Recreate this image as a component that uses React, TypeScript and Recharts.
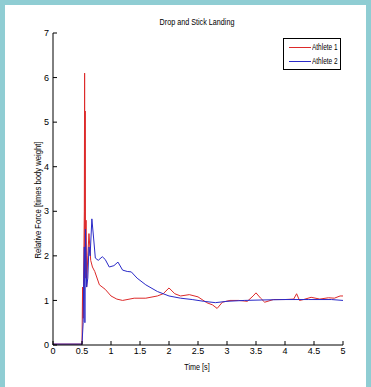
import { LineChart, Line, XAxis, YAxis } from 'recharts'

const xTicks = [0, 0.5, 1, 1.5, 2, 2.5, 3, 3.5, 4, 4.5, 5]
const yTicks = [0, 1, 2, 3, 4, 5, 6, 7]

// Athlete 1 (red)
const time1 = [0, 0.5, 0.51, 0.52, 0.53, 0.54, 0.545, 0.55, 0.555, 0.56, 0.57, 0.58, 0.6, 0.62, 0.65, 0.68, 0.72, 0.8, 0.9, 1.0, 1.1, 1.2, 1.4, 1.6, 1.8, 1.9, 2.0, 2.1, 2.2, 2.35, 2.5, 2.65, 2.75, 2.83, 2.92, 3.05, 3.2, 3.35, 3.45, 3.5, 3.58, 3.65, 3.8, 4.0, 4.15, 4.2, 4.25, 4.32, 4.45, 4.6, 4.75, 4.85, 4.95, 5.0]
const force1 = [0.02, 0.02, 1.3, 0.6, 1.75, 3.0, 6.1, 2.2, 5.25, 1.5, 2.8, 1.3, 2.0, 2.5, 1.9, 1.75, 1.65, 1.35, 1.25, 1.1, 1.03, 1.0, 1.05, 1.05, 1.1, 1.15, 1.28, 1.15, 1.1, 1.13, 1.08, 0.95, 0.9, 0.82, 0.96, 1.0, 1.0, 0.98, 1.1, 1.17, 1.05, 0.96, 1.02, 1.02, 1.03, 1.15, 1.0, 1.02, 1.07, 1.03, 1.06, 1.05, 1.1, 1.1]

// Athlete 2 (blue)
const time2 = [0, 0.5, 0.52, 0.53, 0.54, 0.55, 0.56, 0.57, 0.58, 0.6, 0.62, 0.64, 0.67, 0.7, 0.73, 0.78, 0.85, 0.9, 0.97, 1.05, 1.12, 1.2, 1.28, 1.35, 1.45, 1.6, 1.8, 2.0, 2.2, 2.4, 2.6, 2.8, 3.0, 3.3, 3.6, 4.0, 4.4, 4.8, 5.0]
const force2 = [0.02, 0.02, 0.5, 1.5, 2.2, 0.5, 2.6, 2.0, 1.3, 1.5, 2.2, 2.0, 2.83, 2.4, 1.95, 1.9, 1.98, 1.92, 1.75, 1.78, 1.86, 1.68, 1.65, 1.64, 1.5, 1.35, 1.2, 1.1, 1.05, 1.02, 0.98, 0.95, 0.98, 1.0, 1.01, 1.02, 1.02, 1.02, 1.0]

const series1 = time1.map((t, i) => ({ t, f: force1[i] }))
const series2 = time2.map((t, i) => ({ t, f: force2[i] }))

const FONT = '"Liberation Sans", Arial, sans-serif'
const RED = '#dd2a2a'
const BLUE = '#2a2ac8'

function BottomTick(props: any) {
  const { x, y, payload } = props
  const axisY = y - 3
  return (
    <g>
      <line x1={x} x2={x} y1={axisY} y2={axisY - 4} stroke="#000" />
      <text x={x} y={y} dy="0.71em" textAnchor="middle" fontSize={9} fontFamily={FONT} fill="#000">
        {payload.value}
      </text>
    </g>
  )
}

function TopTick(props: any) {
  const { x, y } = props
  return <line x1={x} x2={x} y1={y} y2={y + 4} stroke="#000" />
}

function LeftTick(props: any) {
  const { x, y, payload } = props
  const axisX = x + 4
  return (
    <g>
      <line x1={axisX} x2={axisX + 4} y1={y} y2={y} stroke="#000" />
      <text x={x} y={y} dy="0.355em" textAnchor="end" fontSize={9} fontFamily={FONT} fill="#000">
        {payload.value}
      </text>
    </g>
  )
}

function RightTick(props: any) {
  const { x, y } = props
  return <line x1={x} x2={x - 4} y1={y} y2={y} stroke="#000" />
}

const textStyle = {
  fontSize: 9,
  fontFamily: FONT,
  color: '#000',
  whiteSpace: 'nowrap' as const,
}

export default function App() {
  return (
    <div style={{ position: 'absolute', left: 0, top: 0, width: 371, height: 387, background: '#8fcdd3', overflow: 'hidden' }}>
      <div style={{ position: 'absolute', left: 5, top: 5, width: 361, height: 382, background: '#fff' }} />
      <div style={{ ...textStyle, position: 'absolute', left: 197, top: 22, transform: 'translate(-50%, -50%) scaleX(0.8)' }}>
        Drop and Stick Landing
      </div>
      <div style={{ ...textStyle, position: 'absolute', left: 197, top: 367, transform: 'translate(-50%, -50%) scaleX(0.8)' }}>
        Time [s]
      </div>
      <div
        style={{
          ...textStyle,
          position: 'absolute',
          left: 38,
          top: 200,
          transform: 'translate(-50%, -50%) rotate(-90deg) scaleX(0.85)',
        }}
      >
        Relative Force [times body weight]
      </div>
      <div style={{ position: 'absolute', left: 0, top: 0 }}>
        <LineChart width={371} height={387} margin={{ top: 33, right: 28, bottom: 22, left: 23 }}>
          <XAxis
            xAxisId="b"
            dataKey="t"
            type="number"
            domain={[0, 5]}
            ticks={xTicks}
            interval={0}
            height={20}
            tickSize={0}
            tickMargin={3}
            tickLine={false}
            tick={<BottomTick />}
            axisLine={{ stroke: '#000' }}
          />
          <XAxis
            xAxisId="top"
            orientation="top"
            dataKey="t"
            type="number"
            domain={[0, 5]}
            ticks={xTicks}
            interval={0}
            height={0}
            tickSize={0}
            tickMargin={0}
            tickLine={false}
            tick={<TopTick />}
            axisLine={{ stroke: '#000' }}
          />
          <YAxis
            yAxisId="l"
            type="number"
            domain={[0, 7]}
            ticks={yTicks}
            interval={0}
            width={30}
            tickSize={0}
            tickMargin={4}
            tickLine={false}
            tick={<LeftTick />}
            axisLine={{ stroke: '#000' }}
          />
          <YAxis
            yAxisId="r"
            orientation="right"
            type="number"
            domain={[0, 7]}
            ticks={yTicks}
            interval={0}
            width={0}
            tickSize={0}
            tickMargin={0}
            tickLine={false}
            tick={<RightTick />}
            axisLine={{ stroke: '#000' }}
          />
          <Line
            data={series1}
            dataKey="f"
            xAxisId="b"
            yAxisId="l"
            type="linear"
            stroke={RED}
            strokeWidth={1}
            dot={false}
            isAnimationActive={false}
          />
          <Line
            data={series2}
            dataKey="f"
            xAxisId="b"
            yAxisId="l"
            type="linear"
            stroke={BLUE}
            strokeWidth={1}
            dot={false}
            isAnimationActive={false}
          />
        </LineChart>
      </div>
      <div
        style={{
          ...textStyle,
          position: 'absolute',
          left: 283,
          top: 38,
          width: 58,
          height: 32,
          boxSizing: 'border-box',
          border: '1px solid #000',
          background: '#fff',
        }}
      >
        <div style={{ position: 'absolute', left: 5, top: 8, width: 22, height: 1, background: RED }} />
        <div style={{ position: 'absolute', left: 28, top: 3, lineHeight: '10px', transform: 'scaleX(0.72)', transformOrigin: 'left center' }}>
          Athlete 1
        </div>
        <div style={{ position: 'absolute', left: 5, top: 22, width: 22, height: 1, background: BLUE }} />
        <div style={{ position: 'absolute', left: 28, top: 17, lineHeight: '10px', transform: 'scaleX(0.72)', transformOrigin: 'left center' }}>
          Athlete 2
        </div>
      </div>
    </div>
  )
}
